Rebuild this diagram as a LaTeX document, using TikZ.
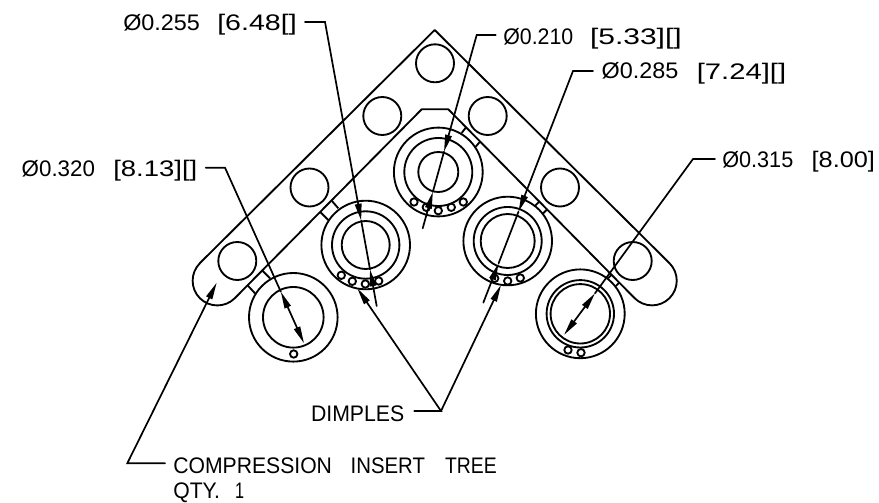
\documentclass[tikz,border=0pt]{standalone}
\usepackage{graphicx}
\usepackage{fontspec}
\setmainfont{Liberation Sans}
\usetikzlibrary{arrows.meta}
\newcommand\lbl[2]{\resizebox{#1pt}{\height}{\fontsize{22.5}{22.5}\selectfont #2}}
\tikzset{
  part/.style={line width=1.85pt,draw=black},
  leader/.style={line width=1.7pt,draw=black,line cap=round,line join=miter},
  label/.style={inner sep=0pt,outer sep=0pt,anchor=base west,text=black},
  >={Triangle[length=17pt,width=6.5pt]}
}
\begin{document}
\begin{tikzpicture}[x=1pt,y=-1pt]
\useasboundingbox[fill=white] (0,0) rectangle (879,503);
% tree outline
\draw[part,line join=round] (199.8,263.2) -- (434.7,30) -- (669.5,263.2)
  arc[start angle=45,end angle=-135,radius=24.7pt] -- (448.3,109.3) -- (421.7,109.3) -- (234.8,298.2)
  arc[start angle=-45,end angle=-225,radius=24.7pt] -- cycle;
% tree holes
\foreach \p in {(435,63.3),(382.3,116),(487.7,116),(309.5,187.5),(560,187.5),(237.3,261),(632.7,261)}
  \draw[part] \p circle[radius=19pt];
% insert A
\draw[part] (293.3,317.3) circle[radius=44.3pt] circle[radius=30.3pt];
\draw[part] (293.7,354) circle[radius=3.7pt];
\draw[part] (247.3,285) -- (255,293.3) (261.7,270) -- (270,278.3);
% insert B
\draw[part] (365.7,245) circle[radius=44.3pt] circle[radius=33.7pt] circle[radius=24pt];
\foreach \p in {(341.3,275.3),(352.3,281.3),(365.3,284),(378.7,281)}
  \draw[part] \p circle[radius=3.7pt];
\draw[part] (320,211.7) -- (328.3,220) (331.7,200.7) -- (338.3,208.3);
% insert C
\draw[part] (438.3,172) circle[radius=44.4pt] circle[radius=34pt] circle[radius=20pt];
\foreach \p in {(414,202),(426.3,207.3),(438.3,210.7),(451.3,207.3),(463.3,202)}
  \draw[part] \p circle[radius=3.7pt];
\draw[part] (466,127.3) -- (461.7,133) (480,141.7) -- (475.7,146.7);
% insert D
\draw[part] (507.7,241) circle[radius=44.3pt] circle[radius=34pt] circle[radius=27pt];
\foreach \p in {(494.7,278.3),(507.7,281),(520.3,278)}
  \draw[part] \p circle[radius=3.7pt];
\draw[part] (538.8,202.1) -- (535.3,205.6) (546.6,209.9) -- (543.1,213.4);
% insert E
\draw[part] (580.3,313.8) circle[radius=44.4pt] circle[radius=33.7pt] circle[radius=29.7pt];
\foreach \p in {(568,350),(581,352.7)}
  \draw[part] \p circle[radius=3.7pt];
\draw[part] (611.5,274.8) -- (608,278.4) (619.3,282.6) -- (615.8,286);
% labels
\node[label] (t320) at (21.7,176) {\lbl{73.3}{Ø0.320}\hspace{18.3pt}\lbl{84}{[8.13][]}};
\node[label] (t255) at (123.3,30.7) {\lbl{76.7}{Ø0.255}\hspace{17.3pt}\lbl{79.4}{[6.48[]}};
\node[label] (t210) at (503.3,44.3) {\lbl{70}{Ø0.210}\hspace{16.7pt}\lbl{91.7}{[5.33][]}};
\node[label] (t285) at (601.7,79) {\lbl{76.7}{Ø0.285}\hspace{18.4pt}\lbl{89.3}{[7.24][]}};
\node[label] (t315) at (722.3,167.7) {\lbl{71}{Ø0.315}\hspace{18.4pt}\lbl{63.3}{[8.00]}};
\node[label] (tdim) at (311,421.7) {\lbl{93.3}{DIMPLES}};
\node[label] (ttree) at (173.3,473.3) {\lbl{158.7}{COMPRESSION}\hspace{18.7pt}\lbl{74.3}{INSERT}\hspace{20pt}\lbl{51.7}{TREE}};
\node[label] (tqty) at (173.3,498.5) {\lbl{46.7}{QTY.}\hspace{15pt}\lbl{9}{1}};
% leader points
\coordinate (a0) at (205.7,167.7); \coordinate (a1) at (225,167.7);
\coordinate (a2) at (280.8,291.7); \coordinate (a3) at (304,343.3);
\coordinate (b0) at (305,22); \coordinate (b1) at (325,22);
\coordinate (b2) at (361.2,220.7); \coordinate (b3) at (370,269.3); \coordinate (b4) at (376.7,306);
\coordinate (c0) at (495.7,35); \coordinate (c1) at (476.7,35);
\coordinate (c2) at (444,151.7); \coordinate (c3) at (432.9,191.7); \coordinate (c4) at (422.7,228.3);
\coordinate (d0) at (593,71); \coordinate (d1) at (573,71);
\coordinate (d2) at (518.5,211.7); \coordinate (d3) at (498.6,263.3); \coordinate (d4) at (483.3,302.7);
\coordinate (e0) at (715,159); \coordinate (e1) at (693,159);
\coordinate (e2) at (595,293.3); \coordinate (e3) at (564,335);
\coordinate (f0) at (414.3,411); \coordinate (f1) at (441,411);
\coordinate (f2) at (357.3,288.3); \coordinate (f3) at (501,285);
\coordinate (g0) at (165,463.3); \coordinate (g1) at (127.3,463.3); \coordinate (g2) at (216.7,282.7);
% leaders
\draw[leader] (a0) -- (a1) -- (a2);
\draw[leader,<->] (a2) -- (a3);
\draw[leader,->] (b0) -- (b1) -- (b2);
\draw[leader] (b2) -- (b3);
\draw[leader,->] (b4) -- (b3);
\draw[leader,->] (c0) -- (c1) -- (c2);
\draw[leader] (c2) -- (c3);
\draw[leader,->] (c4) -- (c3);
\draw[leader,->] (d0) -- (d1) -- (d2);
\draw[leader] (d2) -- (d3);
\draw[leader,->] (d4) -- (d3);
\draw[leader] (e0) -- (e1) -- (e2);
\draw[leader,<->] (e2) -- (e3);
\draw[leader,->] (f0) -- (f1) -- (f2);
\draw[leader,->] (f1) -- (f3);
\draw[leader,->] (g0) -- (g1) -- (g2);
\end{tikzpicture}
\end{document}
